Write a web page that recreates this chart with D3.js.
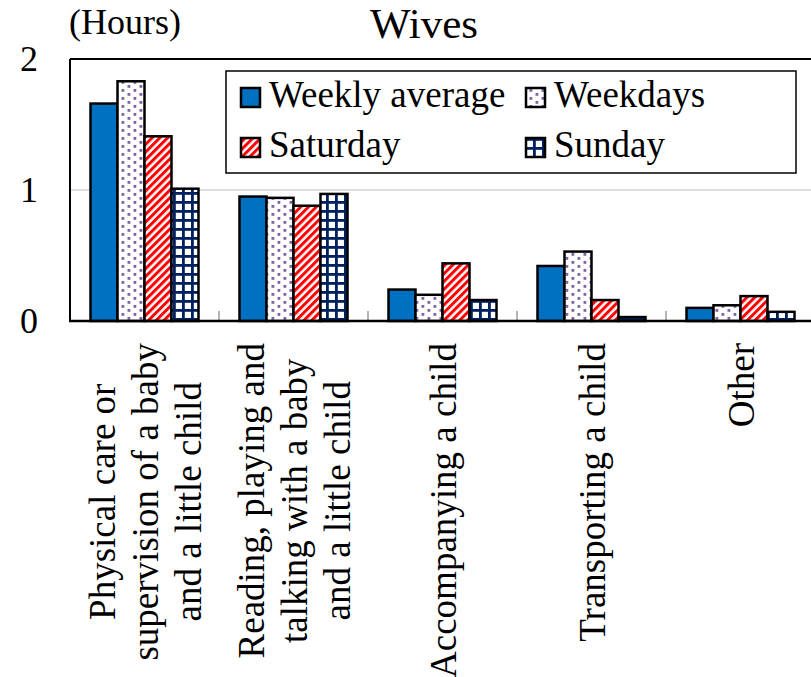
<html>
<head>
<meta charset="utf-8">
<script src="https://cdn.jsdelivr.net/npm/d3@7"></script>
<style>
  body { margin: 0; background: #fff; }
  svg { display: block; }
</style>
</head>
<body>
<svg id="chart"></svg>
<script>
// chart values
const categories = ["physical", "reading", "accompanying", "transporting", "other"]
const categoryLines = [
    ["Physical care or", "supervision of a baby", "and a little child"],
    ["Reading, playing and", "talking with a baby", "and a little child"],
    ["Accompanying a child"],
    ["Transporting a child"],
    ["Other"]
]
const series = ["Weekly average", "Weekdays", "Saturday", "Sunday"]
const weeklyAverage = [1.66, 0.95, 0.24, 0.42, 0.10]
const weekdays      = [1.83, 0.94, 0.20, 0.53, 0.12]
const saturday      = [1.41, 0.88, 0.44, 0.16, 0.19]
const sunday        = [1.01, 0.97, 0.16, 0.03, 0.07]
const yTicks = [0, 1, 2]

const values = [weeklyAverage, weekdays, saturday, sunday]
const fills = ["#0070C0", "url(#dots)", "url(#stripes)", "url(#grid)"]
const FONT = '"Liberation Serif", "Times New Roman", "Liberation Sans", sans-serif'

const WIDTH = 811, HEIGHT = 677
const MARGIN = {top: 59, left: 70, bottom: 356, right: -4}

const svg = d3.select("#chart").attr("width", WIDTH).attr("height", HEIGHT)
    .attr("font-family", FONT)

// patterns for the bars
const defs = svg.append("defs")
let p = defs.append("pattern").attr("id", "dots")
    .attr("patternUnits", "userSpaceOnUse").attr("width", 12).attr("height", 8)
p.append("rect").attr("width", 12).attr("height", 8).attr("fill", "#fff")
p.append("rect").attr("x", 1.5).attr("y", 1).attr("width", 2.8).attr("height", 2.8).attr("fill", "#8064A2")
p.append("rect").attr("x", 7.5).attr("y", 5).attr("width", 2.8).attr("height", 2.8).attr("fill", "#8064A2")

p = defs.append("pattern").attr("id", "stripes")
    .attr("patternUnits", "userSpaceOnUse").attr("width", 5.5).attr("height", 5.5)
    .attr("patternTransform", "rotate(45)")
p.append("rect").attr("width", 5.5).attr("height", 5.5).attr("fill", "#fff")
p.append("rect").attr("width", 3).attr("height", 5.5).attr("fill", "#FF0000")

p = defs.append("pattern").attr("id", "grid")
    .attr("patternUnits", "userSpaceOnUse").attr("width", 9).attr("height", 9)
    .attr("x", 2).attr("y", 3)
p.append("rect").attr("width", 9).attr("height", 9).attr("fill", "#fff")
p.append("rect").attr("width", 2.8).attr("height", 9).attr("fill", "#002060")
p.append("rect").attr("width", 9).attr("height", 2.8).attr("fill", "#002060")

// scales
const x0 = d3.scaleBand()
    .domain(categories)
    .range([MARGIN.left, WIDTH - MARGIN.right])
const bw = x0.bandwidth()
const x1 = d3.scaleBand()
    .domain(series)
    .range([bw * 0.1376, bw * (1 - 0.1376)])
const y = d3.scaleLinear()
    .domain([0, 2])
    .range([HEIGHT - MARGIN.bottom, MARGIN.top])

// gridline at 1
svg.append("g")
    .selectAll("line")
    .data(yTicks.filter(d => d > 0 && d < 2))
    .join("line")
        .attr("x1", MARGIN.left).attr("x2", WIDTH - MARGIN.right)
        .attr("y1", d => y(d)).attr("y2", d => y(d))
        .attr("stroke", "#BFBFBF").attr("stroke-width", 1.2)

// category separator ticks
svg.append("g")
    .selectAll("line")
    .data(categories.slice(1))
    .join("line")
        .attr("x1", d => x0(d)).attr("x2", d => x0(d))
        .attr("y1", y(0)).attr("y2", y(0) - 10)
        .attr("stroke", "#808080").attr("stroke-width", 1.2)

// bars
series.forEach((s, si) => {
    svg.append("g")
        .selectAll("rect")
        .data(values[si])
        .join("rect")
            .attr("x", (d, i) => x0(categories[i]) + x1(s))
            .attr("y", d => y(d))
            .attr("width", x1.bandwidth())
            .attr("height", d => y(0) - y(d))
            .attr("fill", fills[si])
            .attr("stroke", "#000")
            .attr("stroke-width", 2.5)
})

// plot frame: top and left, plus bottom axis line
svg.append("line")
    .attr("x1", MARGIN.left).attr("x2", WIDTH)
    .attr("y1", y(2)).attr("y2", y(2))
    .attr("stroke", "#000").attr("stroke-width", 2)
svg.append("line")
    .attr("x1", MARGIN.left).attr("x2", MARGIN.left)
    .attr("y1", y(2)).attr("y2", y(0))
    .attr("stroke", "#000").attr("stroke-width", 2)
svg.append("line")
    .attr("x1", MARGIN.left - 1).attr("x2", WIDTH)
    .attr("y1", y(0)).attr("y2", y(0))
    .attr("stroke", "#000").attr("stroke-width", 2.5)

// y axis labels
const yAxis = d3.axisLeft(y).tickValues(yTicks).tickSize(0).tickPadding(32).tickFormat(d3.format("d"))
svg.append("g")
    .attr("transform", `translate(${MARGIN.left},0)`)
    .call(yAxis)
    .attr("font-family", FONT)
    .call(g => g.select(".domain").remove())
    .selectAll("text")
        .attr("font-size", 36)
        .attr("fill", "#000")

// unit and title
svg.append("text")
    .attr("x", 69).attr("y", 34)
    .attr("font-size", 36)
    .text("(Hours)")
svg.append("text")
    .attr("x", 424).attr("y", 38)
    .attr("text-anchor", "middle")
    .attr("font-size", 43)
    .text("Wives")

// x labels, rotated
categories.forEach((c, i) => {
    const lines = categoryLines[i]
    const cx = x0(c) + bw / 2
    const g = svg.append("g")
    const texts = g.selectAll("text")
        .data(lines)
        .join("text")
            .attr("font-size", 37)
            .attr("text-anchor", "middle")
            .text(d => d)
    const maxLen = d3.max(texts.nodes(), n => n.getComputedTextLength())
    const cy = 343 + maxLen / 2
    texts.attr("transform", (d, j) => {
        const bx = cx + (j - (lines.length - 1) / 2) * 43 + 13
        return `translate(${bx},${cy}) rotate(-90)`
    })
})

// legend
const legend = svg.append("g")
legend.append("rect")
    .attr("x", 226).attr("y", 71).attr("width", 570).attr("height", 102)
    .attr("fill", "#fff").attr("stroke", "#000").attr("stroke-width", 1.5)
const legendPos = [[241, 88], [526, 88], [241, 138], [526, 138]]
series.forEach((s, si) => {
    const [lx, ly] = legendPos[si]
    legend.append("rect")
        .attr("x", lx).attr("y", ly).attr("width", 19).attr("height", 19)
        .attr("fill", fills[si]).attr("stroke", "#000").attr("stroke-width", 2.5)
    legend.append("text")
        .attr("x", lx + 28).attr("y", ly + 19)
        .attr("font-size", 37)
        .text(s)
})
</script>
</body>
</html>
